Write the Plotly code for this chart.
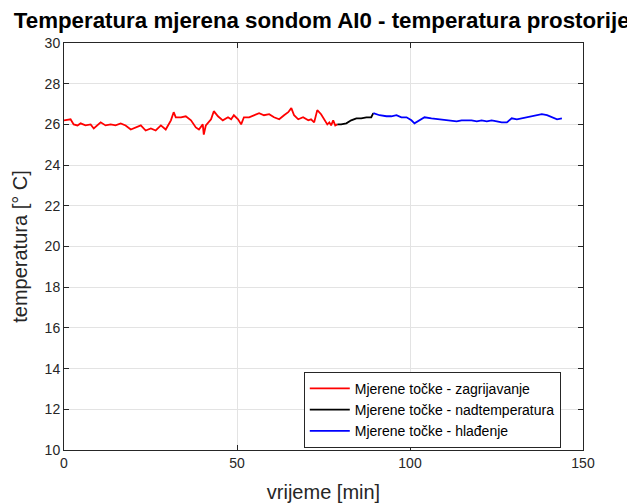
import plotly.graph_objects as go

# Zagrijavanje (red)
t_red = [0, 1.9, 2.8, 3.9, 4.8, 6.2, 7.7, 8.6, 10.6, 12.0, 13.5, 14.9, 16.4, 17.8, 19.3, 20.7,
         22.2, 23.6, 25.1, 26.5, 28.0, 29.4, 30.9, 31.7, 32.3, 33.8, 35.2, 36.7, 38.1, 39.0,
         40.1, 40.4, 41.0, 42.5, 43.3, 44.5, 45.9, 47.4, 48.3, 49.1, 50.3, 51.2, 52.0, 53.5,
         54.9, 56.4, 57.8, 59.3, 60.7, 62.2, 63.6, 64.8, 65.7, 66.5, 67.7, 69.1, 70.6, 71.4,
         72.3, 73.2, 74.3, 75.2, 76.1, 76.7, 77.2, 77.8, 78.4, 79.0]
v_red = [26.2, 26.25, 26.0, 25.95, 26.05, 25.95, 26.0, 25.8, 26.1, 25.95, 26.0, 25.95, 26.05,
         25.95, 25.75, 25.85, 25.95, 25.7, 25.8, 25.7, 25.95, 25.75, 26.2, 26.6, 26.35, 26.35,
         26.4, 26.2, 25.85, 25.75, 26.0, 25.5, 25.95, 26.25, 26.65, 26.4, 26.2, 26.35, 26.25,
         26.45, 26.25, 26.0, 26.35, 26.35, 26.45, 26.55, 26.45, 26.5, 26.35, 26.25, 26.45,
         26.6, 26.8, 26.45, 26.25, 26.35, 26.2, 26.25, 26.1, 26.7, 26.5, 26.25, 26.0, 26.1,
         25.95, 26.2, 25.95, 26.0]

# Nadtemperatura (black)
t_blk = [79.0, 80.1, 81.6, 83.0, 84.5, 85.9, 87.4, 88.3, 88.8, 89.4]
v_blk = [26.0, 26.0, 26.05, 26.2, 26.3, 26.3, 26.35, 26.35, 26.35, 26.55]

# Hladjenje (blue)
t_blu = [89.4, 91.2, 93.2, 94.6, 96.1, 97.5, 99.0, 100.4, 101.3, 102.8, 104.2, 106.2, 109.1,
         110.6, 112.0, 113.5, 114.9, 116.4, 117.8, 119.3, 120.7, 122.2, 123.6, 125.1, 126.5,
         128.0, 129.4, 130.9, 132.3, 133.8, 135.2, 136.7, 138.1, 139.6, 141.0, 142.5, 143.9]
v_blu = [26.55, 26.45, 26.4, 26.4, 26.45, 26.35, 26.35, 26.2, 26.05, 26.2, 26.35, 26.3, 26.25,
         26.2, 26.2, 26.15, 26.2, 26.2, 26.2, 26.15, 26.2, 26.15, 26.2, 26.15, 26.1, 26.1,
         26.3, 26.25, 26.3, 26.35, 26.4, 26.45, 26.5, 26.45, 26.35, 26.25, 26.3]

x_ticks = [0, 50, 100, 150]
y_ticks = list(range(10, 31, 2))

FONT = "Liberation Sans, Arial, Helvetica, sans-serif"
fig = go.Figure()
fig.add_trace(go.Scatter(x=t_red, y=v_red, mode="lines", line=dict(color="#ff0000", width=1.8),
                         name="Mjerene točke - zagrijavanje"))
fig.add_trace(go.Scatter(x=t_blk, y=v_blk, mode="lines", line=dict(color="#000000", width=1.8),
                         name="Mjerene točke - nadtemperatura"))
fig.add_trace(go.Scatter(x=t_blu, y=v_blu, mode="lines", line=dict(color="#0000ff", width=1.8),
                         name="Mjerene točke - hlađenje"))

axis_common = dict(showgrid=True, gridcolor="#e3e3e3", gridwidth=1, zeroline=False,
                   showline=True, linecolor="#262626", linewidth=1, mirror="allticks",
                   ticks="inside", ticklen=5, tickcolor="#262626", automargin=False,
                   tickfont=dict(family=FONT, size=14, color="#262626"))

fig.update_layout(
    width=635, height=503,
    margin=dict(l=56, r=60, t=35, b=61),
    paper_bgcolor="white", plot_bgcolor="white",
    title=dict(text="<b>Temperatura mjerena sondom AI0 - temperatura prostorije</b>",
               x=0.494, xanchor="center", y=0.975, yanchor="middle",
               font=dict(family=FONT, size=22.3, color="#000000")),
    xaxis=dict(range=[0, 150], tickvals=x_ticks,
               title=dict(text="vrijeme [min]", standoff=15,
                          font=dict(family=FONT, size=20, color="#262626")),
               **axis_common),
    yaxis=dict(range=[10, 30], tickvals=y_ticks,
               title=dict(text="temperatura [° C]", standoff=11,
                          font=dict(family=FONT, size=20, color="#262626")),
               **axis_common),
    legend=dict(x=0.462, y=0.192, xanchor="left", yanchor="top",
                bgcolor="white", bordercolor="#262626", borderwidth=1,
                font=dict(family=FONT, size=14, color="#000000"),
                tracegroupgap=0, itemwidth=40),
    showlegend=True,
)

fig.write_html("out.html")
